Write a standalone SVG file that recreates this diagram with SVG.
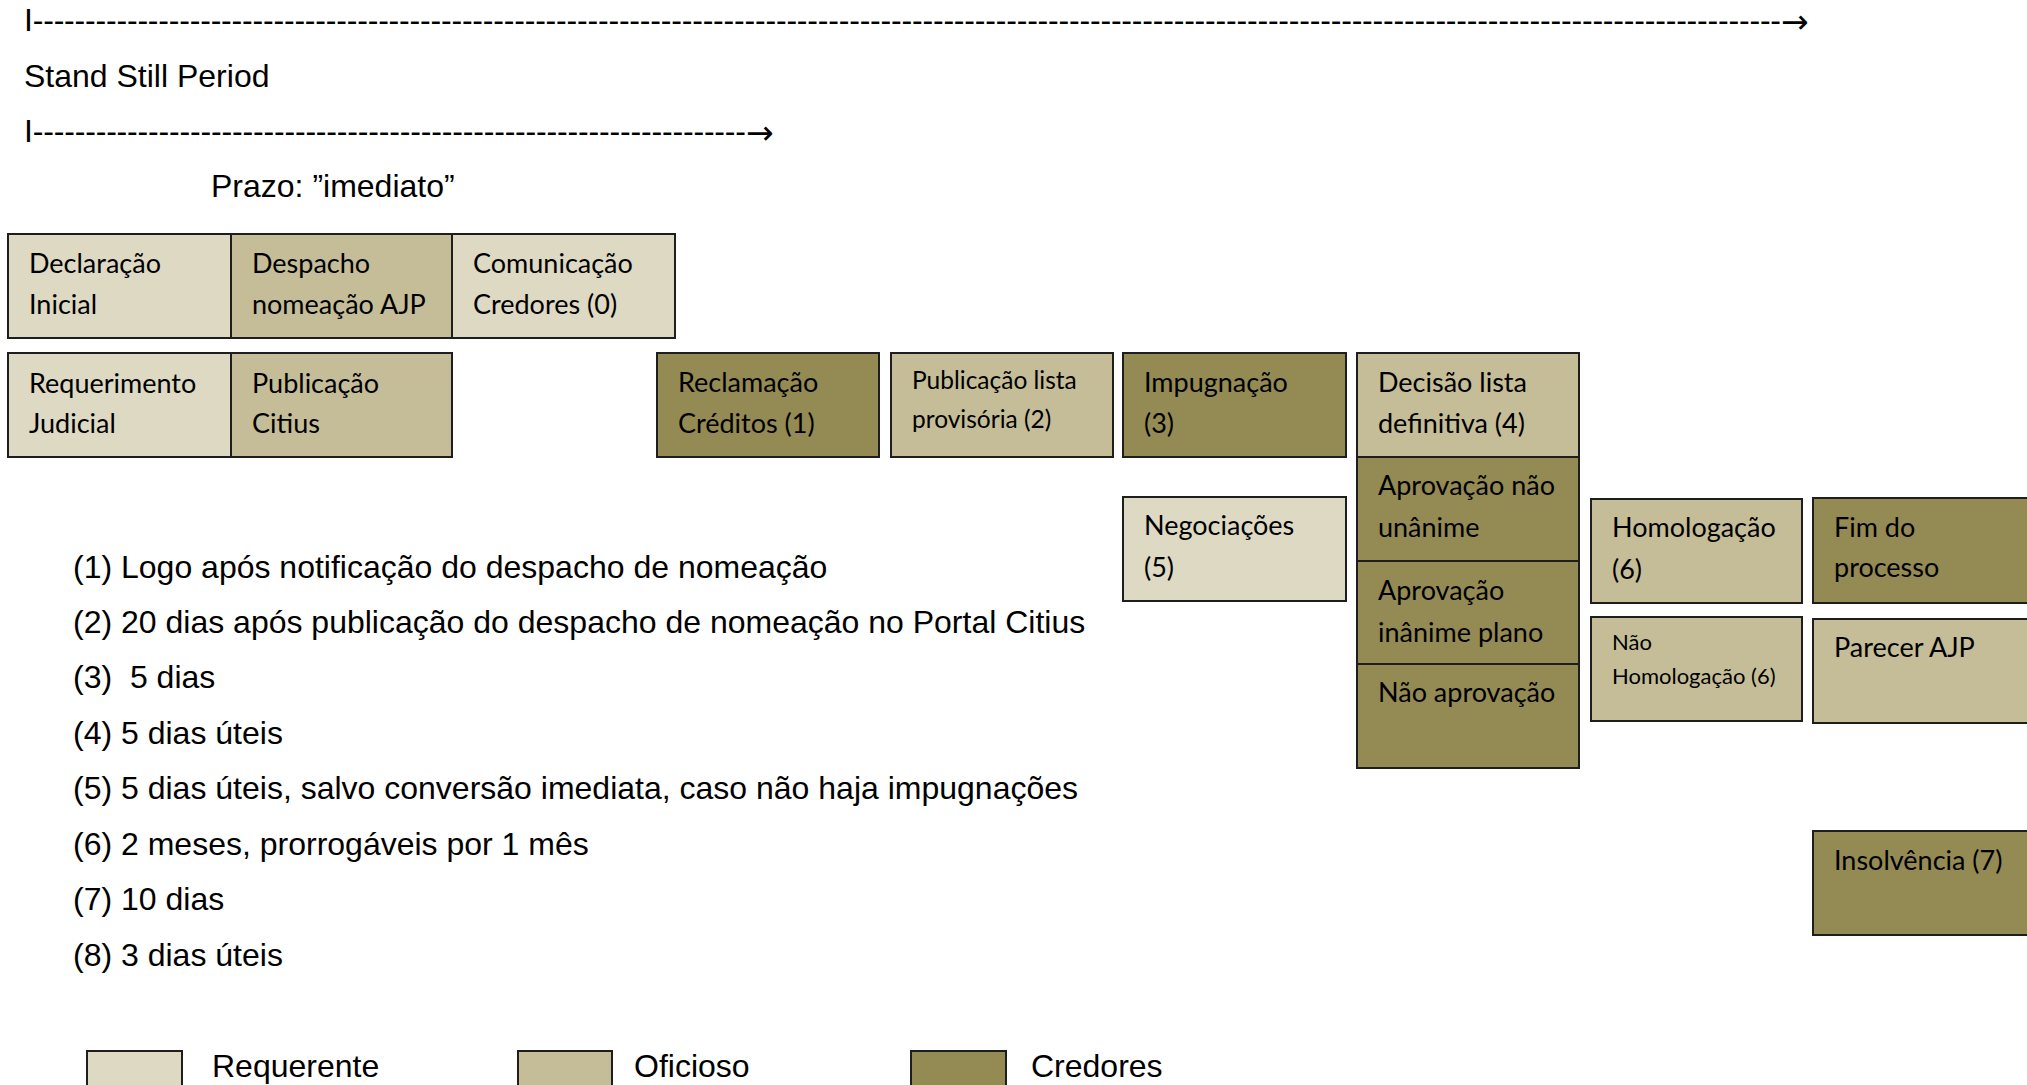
<svg xmlns="http://www.w3.org/2000/svg" width="2027" height="1085" viewBox="0 0 2027 1085">
<style>
.box{stroke:#1e1e1e;stroke-width:2}
.req{fill:#DDD9C3}
.ofi{fill:#C4BD97}
.cred{fill:#948A54}
.bt{font-family:Lato,"Open Sans",sans-serif;font-size:27px;fill:#000}
.bs{font-family:Lato,"Open Sans",sans-serif;font-size:24.5px;fill:#000}
.bxs{font-family:Lato,"Open Sans",sans-serif;font-size:22px;fill:#000}
.at{font-family:"Liberation Sans",Arial,sans-serif;font-size:32px;fill:#000;white-space:pre}
.arr{font-family:"DejaVu Sans",sans-serif;font-size:33px;fill:#000}
</style>
<rect width="2027" height="1085" fill="#fff"/>

<g id="connectors">
  <text class="at" x="24" y="31" textLength="1757" lengthAdjust="spacing">I-----------------------------------------------------------------------------------------------------------------------------------------------------------------------</text>
  <text class="arr" x="1781" y="33">→</text>
  <text class="at" x="24" y="142" textLength="722" lengthAdjust="spacing">I--------------------------------------------------------------------</text>
  <text class="arr" x="746" y="144">→</text>
</g>

<g id="headings">
  <text class="at" x="24" y="87">Stand Still Period</text>
  <text class="at" x="211" y="197">Prazo: ”imediato”</text>
</g>

<g id="n-declaracao"><rect class="box req" x="8" y="234" width="223" height="104"/><text class="bt" x="29" y="273">Declaração</text><text class="bt" x="29" y="314">Inicial</text></g>
<g id="n-despacho"><rect class="box ofi" x="231" y="234" width="221" height="104"/><text class="bt" x="252" y="273">Despacho</text><text class="bt" x="252" y="314">nomeação AJP</text></g>
<g id="n-comunicacao"><rect class="box req" x="452" y="234" width="223" height="104"/><text class="bt" x="473" y="273">Comunicação</text><text class="bt" x="473" y="314">Credores (0)</text></g>

<g id="n-requerimento"><rect class="box req" x="8" y="353" width="223" height="104"/><text class="bt" x="29" y="393">Requerimento</text><text class="bt" x="29" y="433">Judicial</text></g>
<g id="n-publicacao-citius"><rect class="box ofi" x="231" y="353" width="221" height="104"/><text class="bt" x="252" y="393">Publicação</text><text class="bt" x="252" y="433">Citius</text></g>
<g id="n-reclamacao"><rect class="box cred" x="657" y="353" width="222" height="104"/><text class="bt" x="678" y="392">Reclamação</text><text class="bt" x="678" y="433">Créditos (1)</text></g>
<g id="n-publicacao-lista"><rect class="box ofi" x="891" y="353" width="222" height="104"/><text class="bs" x="912" y="389">Publicação lista</text><text class="bs" x="912" y="428">provisória (2)</text></g>
<g id="n-impugnacao"><rect class="box cred" x="1123" y="353" width="223" height="104"/><text class="bt" x="1144" y="392">Impugnação</text><text class="bt" x="1144" y="433">(3)</text></g>
<g id="n-decisao"><rect class="box ofi" x="1357" y="353" width="222" height="104"/><text class="bt" x="1378" y="392">Decisão lista</text><text class="bt" x="1378" y="433">definitiva (4)</text></g>
<g id="n-aprovacao-nao-unanime"><rect class="box cred" x="1357" y="457" width="222" height="104"/><text class="bt" x="1378" y="495">Aprovação não</text><text class="bt" x="1378" y="537">unânime</text></g>
<g id="n-aprovacao-inanime"><rect class="box cred" x="1357" y="561" width="222" height="103"/><text class="bt" x="1378" y="600">Aprovação</text><text class="bt" x="1378" y="642">inânime plano</text></g>
<g id="n-nao-aprovacao"><rect class="box cred" x="1357" y="664" width="222" height="104"/><text class="bt" x="1378" y="702">Não aprovação</text></g>
<g id="n-negociacoes"><rect class="box req" x="1123" y="497" width="223" height="104"/><text class="bt" x="1144" y="535">Negociações</text><text class="bt" x="1144" y="577">(5)</text></g>
<g id="n-homologacao"><rect class="box ofi" x="1591" y="499" width="211" height="104"/><text class="bt" x="1612" y="537">Homologação</text><text class="bt" x="1612" y="579">(6)</text></g>
<g id="n-nao-homologacao"><rect class="box ofi" x="1591" y="617" width="211" height="104"/><text class="bxs" x="1612" y="650">Não</text><text class="bxs" x="1612" y="684">Homologação (6)</text></g>
<g id="n-fim"><rect class="box cred" x="1813" y="498" width="230" height="105"/><text class="bt" x="1834" y="537">Fim do</text><text class="bt" x="1834" y="577">processo</text></g>
<g id="n-parecer"><rect class="box ofi" x="1813" y="619" width="230" height="104"/><text class="bt" x="1834" y="657">Parecer AJP</text></g>
<g id="n-insolvencia"><rect class="box cred" x="1813" y="831" width="230" height="104"/><text class="bt" x="1834" y="870">Insolvência (7)</text></g>

<g id="notes">
  <text class="at" x="73" y="578">(1) Logo após notificação do despacho de nomeação</text>
  <text class="at" x="73" y="633">(2) 20 dias após publicação do despacho de nomeação no Portal Citius</text>
  <text class="at" x="73" y="688" xml:space="preserve">(3)  5 dias</text>
  <text class="at" x="73" y="744">(4) 5 dias úteis</text>
  <text class="at" x="73" y="799">(5) 5 dias úteis, salvo conversão imediata, caso não haja impugnações</text>
  <text class="at" x="73" y="855">(6) 2 meses, prorrogáveis por 1 mês</text>
  <text class="at" x="73" y="910">(7) 10 dias</text>
  <text class="at" x="73" y="966">(8) 3 dias úteis</text>
</g>

<g id="legend">
  <g id="legend-requerente"><rect class="box req" x="87" y="1051" width="95" height="50"/><text class="at" x="212" y="1077">Requerente</text></g>
  <g id="legend-oficioso"><rect class="box ofi" x="518" y="1051" width="94" height="50"/><text class="at" x="634" y="1077">Oficioso</text></g>
  <g id="legend-credores"><rect class="box cred" x="911" y="1051" width="95" height="50"/><text class="at" x="1031" y="1077">Credores</text></g>
</g>
</svg>
